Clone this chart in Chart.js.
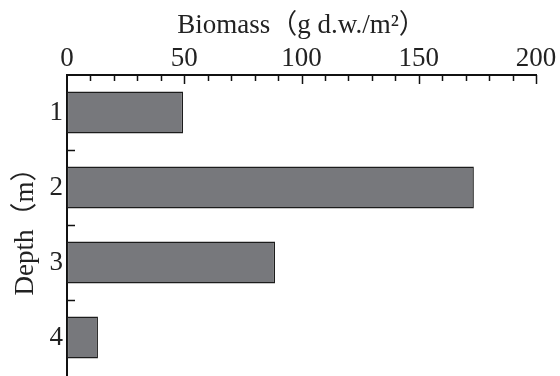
<!DOCTYPE html>
<html>
<head>
<meta charset="utf-8">
<script src="https://cdn.jsdelivr.net/npm/chart.js@4/dist/chart.umd.min.js"></script>
<style>
    html, body { margin: 0; padding: 0; background: #fff; }
    #wrap { width: 560px; height: 376px; }
</style>
</head>
<body>
<div id="wrap"><canvas id="chart"></canvas></div>
<script>
// Data
const depths = ['1', '2', '3', '4'];
const biomass = [49.5, 173.5, 88.7, 13.2];
const xTicks = [0, 50, 100, 150, 200];

const serif = "'Liberation Serif', 'Noto Sans CJK SC', serif";

// Inward tick marks (minor every 10, major every 50, and between depth classes)
const inwardTicks = {
    id: 'inwardTicks',
    afterDraw(chart) {
        const ctx = chart.ctx;
        const x = chart.scales.x;
        const y = chart.scales.y;
        const area = chart.chartArea;
        ctx.save();
        ctx.strokeStyle = '#111';
        ctx.lineWidth = 1.5;
        ctx.beginPath();
        for (let v = 10; v <= 200; v += 10) {
            const px = Math.round(x.getPixelForValue(v)) + 0.5;
            const len = v % 50 === 0 ? 9 : 6;
            ctx.moveTo(px, area.top);
            ctx.lineTo(px, area.top + len);
        }
        for (let i = 0; i < depths.length - 1; i++) {
            const py = Math.round(y.getPixelForValue(i + 0.5)) + 0.5;
            ctx.moveTo(area.left, py);
            ctx.lineTo(area.left + 8, py);
        }
        ctx.stroke();
        ctx.restore();
    }
};

new Chart(document.getElementById('chart'), {
    type: 'bar',
    data: {
        labels: depths,
        datasets: [{
            data: biomass,
            backgroundColor: '#77787c',
            borderColor: '#1c1c1c',
            borderWidth: 1.5,
            borderSkipped: false,
            barPercentage: 0.56,
            categoryPercentage: 1
        }]
    },
    options: {
        indexAxis: 'y',
        responsive: true,
        maintainAspectRatio: false,
        animation: false,
        layout: { autoPadding: false, padding: { left: 0, top: 0, right: 24, bottom: 1 } },
        plugins: {
            legend: { display: false },
            tooltip: { enabled: false }
        },
        scales: {
            x: {
                position: 'top',
                min: 0,
                max: 200,
                afterBuildTicks(scale) {
                    scale.ticks = xTicks.map(v => ({ value: v }));
                },
                afterFit(scale) { scale.height = 75; },
                grid: { display: false, drawTicks: false },
                border: { display: true, color: '#111', width: 2 },
                ticks: {
                    color: '#222',
                    padding: 0,
                    maxRotation: 0,
                    font: { family: serif, size: 27 }
                },
                title: {
                    display: true,
                    text: 'Biomass（g d.w./m²）',
                    color: '#222',
                    padding: { top: 10, bottom: 0 },
                    font: { family: serif, size: 27 }
                }
            },
            y: {
                offset: true,
                afterFit(scale) {
                    scale.width = 67;
                    // no label overhang at the ends of the depth axis
                    scale.paddingTop = 0;
                    scale.paddingBottom = 0;
                },
                grid: { display: false, drawTicks: false },
                border: { display: true, color: '#111', width: 2 },
                ticks: {
                    color: '#222',
                    padding: 4,
                    font: { family: serif, size: 27 }
                },
                title: {
                    display: true,
                    text: 'Depth（m）',
                    color: '#222',
                    padding: { top: 10, bottom: 0 },
                    font: { family: serif, size: 27 }
                }
            }
        }
    },
    plugins: [inwardTicks]
});
</script>
</body>
</html>
